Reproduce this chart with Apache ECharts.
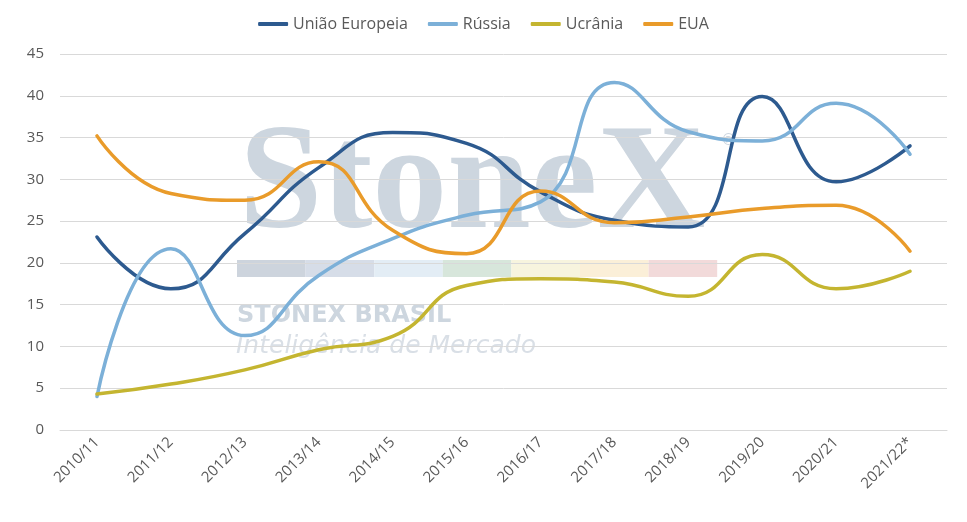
<!DOCTYPE html>
<html>
<head>
<meta charset="utf-8">
<script src="https://cdn.jsdelivr.net/npm/echarts@6/dist/echarts.min.js"></script>
<style>html,body{margin:0;padding:0;background:#fff;}#c{width:967px;height:522px;}</style>
</head>
<body>
<div id="c"></div>
<script>
const categories = ['2010/11','2011/12','2012/13','2013/14','2014/15','2015/16','2016/17','2017/18','2018/19','2019/20','2020/21','2021/22*'];
const uniaoEuropeia = [23.1, 16.9, 23.5, 31.4, 35.6, 34.3, 28.5, 25.1, 24.3, 39.9, 29.7, 34.0];
const russia = [4.0, 21.7, 11.3, 18.5, 22.9, 25.7, 27.3, 41.6, 35.7, 34.6, 39.1, 33.0];
const ucrania = [4.3, 5.5, 7.2, 9.6, 11.2, 17.3, 18.1, 17.7, 16.0, 21.0, 16.9, 19.0];
const eua = [35.2, 28.3, 27.5, 32.1, 23.9, 21.1, 28.6, 24.8, 25.5, 26.5, 26.9, 21.4];
const yTicks = [0, 5, 10, 15, 20, 25, 30, 35, 40, 45];

const chart = echarts.init(document.getElementById('c'));
const stripColors = ['#cdd4dd','#d6dde8','#e3edf5','#d7e6db','#f7f4de','#fbefd8','#f2dada'];
const graphics = [
  {type:'text', x:239, y:113, silent:true, z:-10,
   style:{text:'StoneX', font:'bold 150px "Liberation Serif", "DejaVu Serif", serif', fill:'#cdd6df'}},
  {type:'text', x:721, y:134, silent:true, z:-10,
   style:{text:'®', font:'15px "DejaVu Sans", sans-serif', fill:'#cdd6df'}},
  {type:'text', x:237, y:304, silent:true, z:-10,
   style:{text:'STONEX BRASIL', font:'bold 24px "DejaVu Sans", sans-serif', fill:'#cdd6df'}},
  {type:'text', x:236, y:334, silent:true, z:-10,
   style:{text:'Inteligência de Mercado', font:'italic 200 25px "DejaVu Sans", sans-serif', fill:'#d9dfe6'}}
];
stripColors.forEach((c, i) => {
  graphics.push({type:'rect', x:237 + i*68.6, y:260, silent:true, z:-10,
    shape:{width:68.6, height:17}, style:{fill:c}});
});

const mk = (name, data, color) => ({
  name, type:'line', data, smooth:0.5, symbol:'none',
  lineStyle:{width:3.5, color, cap:'round'}, itemStyle:{color}
});

chart.setOption({
  animation:false,
  backgroundColor:'#ffffff',
  graphic: graphics,
  legend:{
    top:11, left:'center', itemWidth:30, itemHeight:4, itemGap:20, icon:'roundRect',
    textStyle:{color:'#595959', fontSize:16, fontFamily:'"Open Sans", "Noto Sans", sans-serif'},
    data:['União Europeia','Rússia','Ucrânia','EUA']
  },
  grid:{left:60, right:20, top:54, bottom:92, containLabel:false},
  xAxis:{
    type:'category', data:categories, boundaryGap:true,
    axisLine:{show:true, lineStyle:{color:'#d9d9d9'}},
    axisTick:{show:false},
    axisLabel:{rotate:45, color:'#595959', fontSize:15, margin:10, interval:0,
      fontFamily:'"Open Sans", "Noto Sans", sans-serif'}
  },
  yAxis:{
    type:'value', min:yTicks[0], max:yTicks[yTicks.length-1], interval:yTicks[1]-yTicks[0],
    axisLine:{show:false}, axisTick:{show:false},
    axisLabel:{color:'#595959', fontSize:15, margin:16, fontFamily:'"Open Sans", "Noto Sans", sans-serif'},
    splitLine:{lineStyle:{color:'#d9d9d9', width:1}}
  },
  series:[
    mk('União Europeia', uniaoEuropeia, '#2d5a8f'),
    mk('Rússia', russia, '#7cb0d8'),
    mk('Ucrânia', ucrania, '#c4b530'),
    mk('EUA', eua, '#e99b2a')
  ]
});
</script>
</body>
</html>
